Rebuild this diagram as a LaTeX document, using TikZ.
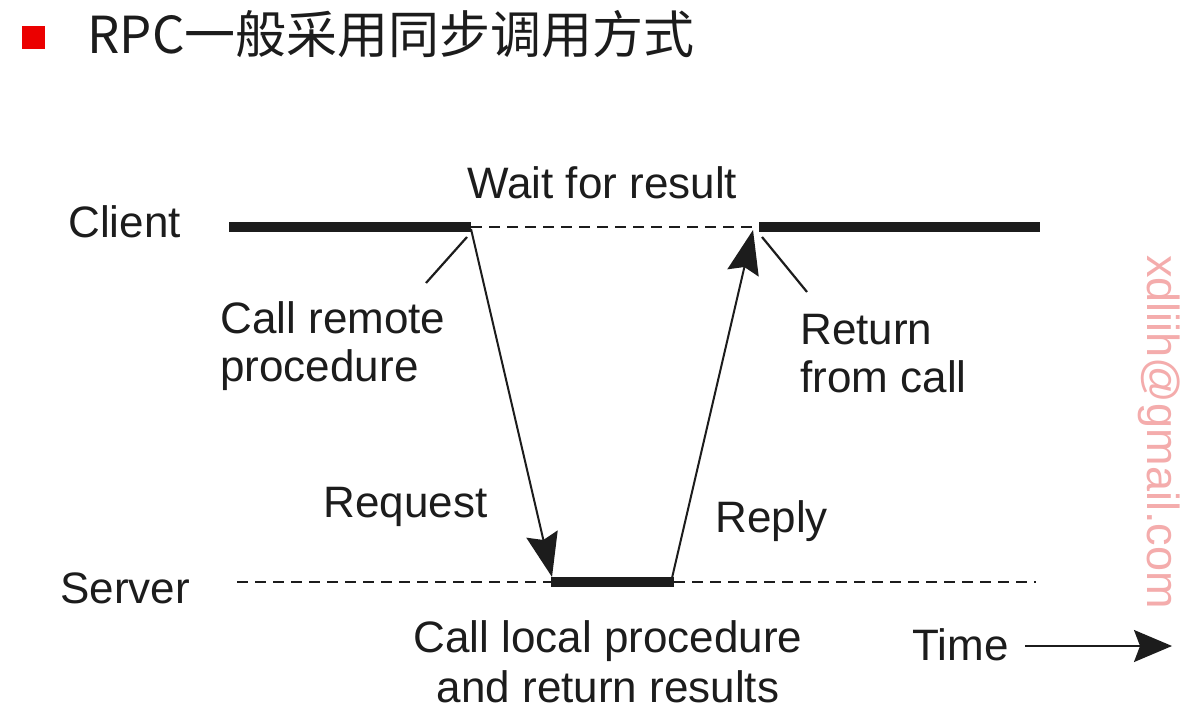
\documentclass[tikz,border=0pt]{standalone}
\usepackage{fontspec}
\setmainfont{Liberation Sans}
\newfontfamily\cjk{Noto Sans CJK SC}
\usetikzlibrary{arrows.meta}
\definecolor{ink}{RGB}{28,28,28}
\definecolor{wmark}{RGB}{244,172,172}
\definecolor{bullet}{RGB}{235,0,0}
\tikzset{
  lbl/.style={anchor=base west, inner sep=0pt, text=ink, font=\fontsize{22}{26}\selectfont},
  lblc/.style={anchor=base, inner sep=0pt, text=ink, font=\fontsize{22}{26}\selectfont},
  busy/.style={draw=ink, line width=5pt},
  idle/.style={draw=ink, line width=1pt, dash pattern=on 5.5pt off 3.5pt},
  msg/.style={draw=ink, line width=1pt, -{Stealth[length=22pt,width=16pt,inset=3pt]}},
  leader/.style={draw=ink, line width=1.1pt},
  timearrow/.style={draw=ink, line width=1pt, -{Stealth[length=19pt,width=16pt,inset=3pt]}}
}
\begin{document}
\begin{tikzpicture}[x=0.5pt,y=-0.5pt]
\useasboundingbox (0,0) rectangle (1186,721);
\fill[white] (0,0) rectangle (1186,721);
% title
\fill[bullet] (22,26) rectangle (45,49);
\node[anchor=base west, inner sep=0pt, text=ink, font=\cjk\fontsize{25.5}{30}\selectfont] (title) at (87,54) {RPC一般采用同步调用方式};
% labels
\node[lbl] (client) at (68,238) {Client};
\node[lbl] (server) at (60,603) {Server};
\node[lbl] (wait) at (467,199) {Wait for result};
\node[lbl] (crp1) at (220,333) {Call remote};
\node[lbl] (crp2) at (220,381) {procedure};
\node[lbl] (rfc1) at (800,344) {Return};
\node[lbl] (rfc2) at (800,392) {from call};
\node[lbl] (req) at (323,517) {Request};
\node[lbl] (rep) at (715,532) {Reply};
\node[lblc] (clp1) at (608,652) {Call local procedure};
\node[lblc] (clp2) at (608,702) {and return results};
\node[lbl] (time) at (912,660) {Time};
% coordinates
\coordinate (ca) at (229,227);
\coordinate (cb) at (471,227);
\coordinate (cc) at (759,227);
\coordinate (cd) at (1040,227);
\coordinate (sa) at (237,582);
\coordinate (sb) at (551,582);
\coordinate (sc) at (674,582);
\coordinate (sd) at (1036,582);
\coordinate (reqs) at (471,229);
\coordinate (reqe) at (552,577);
\coordinate (reps) at (672,578);
\coordinate (repe) at (753,230);
\coordinate (l1a) at (467,237);
\coordinate (l1b) at (426,283);
\coordinate (l2a) at (762,237);
\coordinate (l2b) at (807,292);
\coordinate (ta) at (1025,646);
\coordinate (tb) at (1172,646);
% client timeline
\draw[idle] (cb) -- (cc);
\draw[busy] (ca) -- (cb);
\draw[busy] (cc) -- (cd);
% server timeline
\draw[idle] (sa) -- (sb);
\draw[idle] (sc) -- (sd);
\draw[busy] (sb) -- (sc);
% messages
\draw[msg] (reqs) -- (reqe);
\draw[msg] (reps) -- (repe);
% leaders
\draw[leader] (l1a) -- (l1b);
\draw[leader] (l2a) -- (l2b);
% time arrow
\draw[timearrow] (ta) -- (tb);
% watermark
\node[rotate=-90, inner sep=0pt, text=wmark, font=\fontsize{22.5}{26}\selectfont] (wm) at (1159,432) {xdliih@gmail.com};
\end{tikzpicture}
\end{document}
